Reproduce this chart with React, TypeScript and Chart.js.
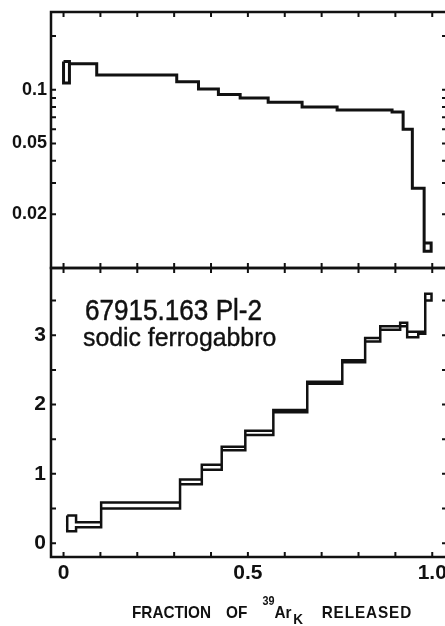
import React, { useEffect, useRef } from "react";
import { Chart, registerables } from "chart.js";

Chart.register(...registerables);

// ---- data ----
// upper panel (log scale): step edges (fraction of 39Ar released) and step values
const topEdges = [0.0, 0.016, 0.09, 0.307, 0.366, 0.42, 0.479, 0.555, 0.647, 0.742, 0.891, 0.921, 0.946, 0.978, 0.997];
const topUpper = [0.144, 0.14, 0.121, 0.111, 0.101, 0.094, 0.09, 0.085, 0.08, 0.077, 0.075, 0.06, 0.028, 0.0138];
const topLower = [0.109, 0.14, 0.121, 0.111, 0.101, 0.094, 0.09, 0.085, 0.08, 0.077, 0.075, 0.06, 0.028, 0.0124];

// lower panel (linear scale): step edges and upper / lower bounds
const botEdges = [0.01, 0.034, 0.102, 0.316, 0.375, 0.429, 0.493, 0.569, 0.661, 0.756, 0.818, 0.859, 0.913, 0.932, 0.962, 0.981, 0.998];
const botUpper = [0.4, 0.3, 0.585, 0.92, 1.13, 1.39, 1.62, 1.92, 2.33, 2.64, 2.96, 3.13, 3.18, 3.05, 3.05, 3.6];
const botLower = [0.17, 0.23, 0.5, 0.85, 1.06, 1.34, 1.56, 1.89, 2.3, 2.61, 2.91, 3.08, 3.13, 2.97, 3.02, 3.5];

// ticks
const xTickValues = [0, 0.5, 1.0];
const xTickLabels = ["0", "0.5", "1.0"];
const xMinorTicks = [0, 0.1, 0.2, 0.3, 0.4, 0.5, 0.6, 0.7, 0.8, 0.9, 1.0];
const topTickValues = [0.1, 0.05, 0.02];
const topTickLabels = ["0.1", "0.05", "0.02"];
const topMinorTicks = [0.02, 0.03, 0.04, 0.05, 0.06, 0.07, 0.08, 0.09, 0.1, 0.2];
const botTickValues = [0, 1, 2, 3];
const botTickLabels = ["0", "1", "2", "3"];
const botMinorTicks = [0, 0.5, 1, 1.5, 2, 2.5, 3, 3.5];

const titleText = "67915.163 Pl-2";
const subtitleText = "sodic ferrogabbro";

const INK = "#111";
const FONT = "'Liberation Sans', Arial, sans-serif";
const X_MIN = -0.034;
const X_MAX = 1.04;

function outline(edges: number[], upper: number[], lower: number[]) {
  const pts: { x: number; y: number }[] = [];
  for (let i = 0; i < upper.length; i++) {
    pts.push({ x: edges[i], y: upper[i] }, { x: edges[i + 1], y: upper[i] });
  }
  for (let i = lower.length - 1; i >= 0; i--) {
    pts.push({ x: edges[i + 1], y: lower[i] }, { x: edges[i], y: lower[i] });
  }
  pts.push({ x: edges[0], y: upper[0] });
  return pts;
}

function framePlugin(opts: { yTicks: number[]; topLen: number; bottomLen: number }) {
  return {
    id: "frame",
    afterDatasetsDraw(chart: any) {
      const { ctx, chartArea: a, scales } = chart;
      const xs = scales.x;
      const ys = scales.y;
      ctx.save();
      ctx.strokeStyle = INK;
      ctx.lineWidth = 2.5;
      ctx.strokeRect(a.left, a.top, a.right - a.left, a.bottom - a.top);
      ctx.lineWidth = 2;
      ctx.beginPath();
      for (const v of xMinorTicks) {
        const px = xs.getPixelForValue(v);
        ctx.moveTo(px, a.top);
        ctx.lineTo(px, a.top + opts.topLen);
        ctx.moveTo(px, a.bottom);
        ctx.lineTo(px, a.bottom - opts.bottomLen);
      }
      for (const v of opts.yTicks) {
        const py = ys.getPixelForValue(v);
        ctx.moveTo(a.left, py);
        ctx.lineTo(a.left + 5, py);
        ctx.moveTo(a.right, py);
        ctx.lineTo(a.right - 5, py);
      }
      ctx.stroke();
      ctx.restore();
    },
  };
}

const fitY = (s: any) => {
  s.width = 51;
  s.paddingTop = 0;
  s.paddingBottom = 0;
};

export default function App() {
  const topRef = useRef<HTMLCanvasElement>(null);
  const botRef = useRef<HTMLCanvasElement>(null);

  useEffect(() => {
    const topChart = new Chart(topRef.current!, {
      type: "line",
      data: {
        datasets: [
          {
            data: outline(topEdges, topUpper, topLower),
            borderColor: INK,
            borderWidth: 3,
            pointRadius: 0,
            fill: false,
            tension: 0,
          },
        ],
      },
      options: {
        animation: false,
        responsive: false,
        devicePixelRatio: 1,
        layout: { padding: { top: 12, right: 5, bottom: 2, left: 0 } },
        plugins: { legend: { display: false }, tooltip: { enabled: false } },
        scales: {
          x: { type: "linear", min: X_MIN, max: X_MAX, display: false },
          y: {
            type: "logarithmic",
            min: 0.01,
            max: 0.273,
            position: "left",
            grid: { display: false, drawTicks: false },
            border: { display: false },
            afterBuildTicks: (s: any) => {
              s.ticks = topTickValues.map((v) => ({ value: v }));
            },
            afterFit: fitY,
            ticks: {
              padding: 4,
              color: INK,
              font: { family: FONT, size: 18, weight: "bold" },
              callback: (v: any) => {
                const i = topTickValues.indexOf(Number(v));
                return i >= 0 ? topTickLabels[i] : "";
              },
            },
          },
        },
      },
      plugins: [framePlugin({ yTicks: topMinorTicks, topLen: 5, bottomLen: 5 })],
    } as any);

    const botChart = new Chart(botRef.current!, {
      type: "line",
      data: {
        datasets: [
          {
            data: outline(botEdges, botUpper, botLower),
            borderColor: INK,
            borderWidth: 2.5,
            pointRadius: 0,
            fill: false,
            tension: 0,
          },
        ],
      },
      options: {
        animation: false,
        responsive: false,
        devicePixelRatio: 1,
        layout: { padding: { top: 2, right: 5, bottom: 0, left: 0 } },
        plugins: { legend: { display: false }, tooltip: { enabled: false } },
        scales: {
          x: {
            type: "linear",
            min: X_MIN,
            max: X_MAX,
            position: "bottom",
            grid: { display: false, drawTicks: false },
            border: { display: false },
            afterBuildTicks: (s: any) => {
              s.ticks = xTickValues.map((v) => ({ value: v }));
            },
            afterFit: (s: any) => {
              s.height = 69;
              s.paddingLeft = 0;
              s.paddingRight = 0;
            },
            ticks: {
              padding: 4,
              color: INK,
              autoSkip: false,
              maxRotation: 0,
              font: { family: FONT, size: 21, weight: "bold" },
              callback: (v: any) => {
                const i = xTickValues.indexOf(Number(v));
                return i >= 0 ? xTickLabels[i] : "";
              },
            },
          },
          y: {
            type: "linear",
            min: -0.2,
            max: 3.97,
            position: "left",
            grid: { display: false, drawTicks: false },
            border: { display: false },
            afterBuildTicks: (s: any) => {
              s.ticks = botTickValues.map((v) => ({ value: v }));
            },
            afterFit: fitY,
            ticks: {
              padding: 5,
              color: INK,
              font: { family: FONT, size: 21, weight: "bold" },
              callback: (v: any) => {
                const i = botTickValues.indexOf(Number(v));
                return i >= 0 ? botTickLabels[i] : "";
              },
            },
          },
        },
      },
      plugins: [framePlugin({ yTicks: botMinorTicks, topLen: 5, bottomLen: 5 })],
    } as any);

    return () => {
      topChart.destroy();
      botChart.destroy();
    };
  }, []);

  const textBase: React.CSSProperties = {
    position: "absolute",
    whiteSpace: "pre",
    lineHeight: 1,
    color: INK,
    fontFamily: FONT,
    transformOrigin: "left top",
  };

  return (
    <div
      style={{
        position: "fixed",
        left: 0,
        top: 0,
        width: 445,
        height: 626,
        overflow: "hidden",
        background: "#fff",
      }}
    >
      <canvas ref={topRef} width={452} height={270} style={{ position: "absolute", left: 0, top: 0 }} />
      <canvas ref={botRef} width={452} height={360} style={{ position: "absolute", left: 0, top: 266 }} />
      <div
        style={{
          ...textBase,
          left: 85,
          top: 295,
          fontSize: 30,
          transform: "scaleX(0.87)",
          WebkitTextStroke: "0.5px #111",
        }}
      >
        {titleText}
      </div>
      <div
        style={{
          ...textBase,
          left: 83,
          top: 324,
          fontSize: 26,
          transform: "scaleX(0.955)",
          WebkitTextStroke: "0.4px #111",
        }}
      >
        {subtitleText}
      </div>
      <div
        style={{
          ...textBase,
          left: 132,
          top: 604,
          fontSize: 17,
          fontWeight: "bold",
          wordSpacing: 12,
          transform: "scaleX(0.9)",
        }}
      >
        FRACTION OF{" "}
        <span style={{ position: "relative", top: -13, fontSize: 12 }}>39</span>
        Ar
        <span style={{ position: "relative", top: 6, fontSize: 15, marginLeft: 2, marginRight: 4 }}>K</span>{" "}
        <span style={{ letterSpacing: 1 }}>RELEASED</span>
      </div>
    </div>
  );
}
